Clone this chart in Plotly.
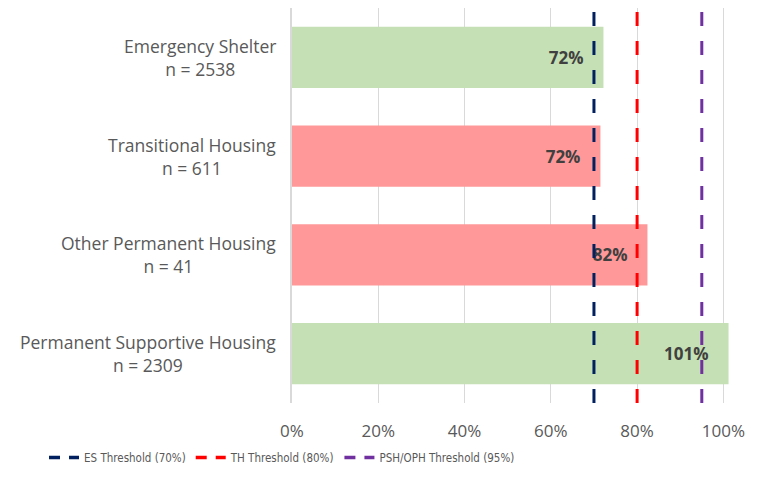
import plotly.graph_objects as go

categories = ["Emergency Shelter", "Transitional Housing", "Other Permanent Housing", "Permanent Supportive Housing"]
counts = [2538, 611, 41, 2309]
utilization = [0.722, 0.715, 0.824, 1.012]
bar_labels = ["72%", "72%", "82%", "101%"]
bar_colors = ["#C5E0B4", "#FF9999", "#FF9999", "#C5E0B4"]

threshold_names = ["ES Threshold (70%)", "TH Threshold (80%)", "PSH/OPH Threshold (95%)"]
threshold_values = [0.70, 0.80, 0.95]
threshold_colors = ["#002060", "#FF0000", "#7030A0"]

tick_vals = [0, 0.2, 0.4, 0.6, 0.8, 1.0]
tick_text = ["0%", "20%", "40%", "60%", "80%", "100%"]

# page body has an 8px margin, so the figure is drawn slightly smaller
W, H = 746, 465
ML, MR, MT, MB = 284, 22, 0, 70
PW, PH = W - ML - MR, H - MT - MB

fig = go.Figure()
fig.add_trace(go.Bar(
    y=categories, x=utilization, orientation="h",
    marker=dict(color=bar_colors, line=dict(width=0)),
    width=0.62,
    text=bar_labels, textposition="inside", insidetextanchor="end",
    texttemplate="%{text}\u2002\u2002",
    textfont=dict(family="Open Sans", size=17, color="#404040", weight="bold"),
    showlegend=False, hoverinfo="skip",
))

for name, val, col in zip(threshold_names, threshold_values, threshold_colors):
    # the threshold line in the plot
    fig.add_trace(go.Scatter(
        x=[val, val], y=[0, 1], yaxis="y2", mode="lines", name=name,
        legendgroup=name, showlegend=False,
        line=dict(color=col, width=3, dash="14px,15px"),
        hoverinfo="skip",
    ))
    # its legend key (shorter dash pattern, as in the reference legend)
    fig.add_trace(go.Scatter(
        x=[None], y=[None], yaxis="y2", mode="lines", name=name,
        legendgroup=name, showlegend=True,
        line=dict(color=col, width=3.5, dash="11px,9px"),
        hoverinfo="skip",
    ))

for cat, n in zip(categories, counts):
    fig.add_annotation(
        x=0, xref="paper", xanchor="right", xshift=-14,
        y=cat, yref="y", yanchor="middle",
        text=f"{cat}<br>n = {n}", showarrow=False, align="center",
        font=dict(family="Open Sans", size=17.5, color="#595959"),
    )

fig.update_layout(
    width=W, height=H,
    margin=dict(l=ML, r=MR, t=MT, b=MB),
    plot_bgcolor="white", paper_bgcolor="white",
    xaxis=dict(range=[0, 1.02], tickvals=tick_vals, ticktext=tick_text,
               showgrid=True, gridcolor="#D9D9D9", gridwidth=1, zeroline=False,
               showline=False, ticks="", ticklabelstandoff=16,
               tickfont=dict(family="Open Sans", size=17, color="#595959")),
    yaxis=dict(categoryorder="array", categoryarray=categories, autorange="reversed",
               showticklabels=False, showgrid=False, zeroline=False,
               showline=True, linecolor="#D9D9D9", linewidth=2, ticks=""),
    yaxis2=dict(overlaying="y", range=[0, 1], visible=False, fixedrange=True),
    legend=dict(orientation="h", xref="paper", yref="paper",
                x=(36 - ML) / PW, xanchor="left",
                y=-(H - 1 - MT - PH) / PH, yanchor="bottom",
                font=dict(family="Liberation Sans Narrow, DejaVu Sans Condensed, Liberation Sans", size=11.5, color="#595959"),
                itemwidth=30, tracegroupgap=0),
)

fig.write_html("out.html")
